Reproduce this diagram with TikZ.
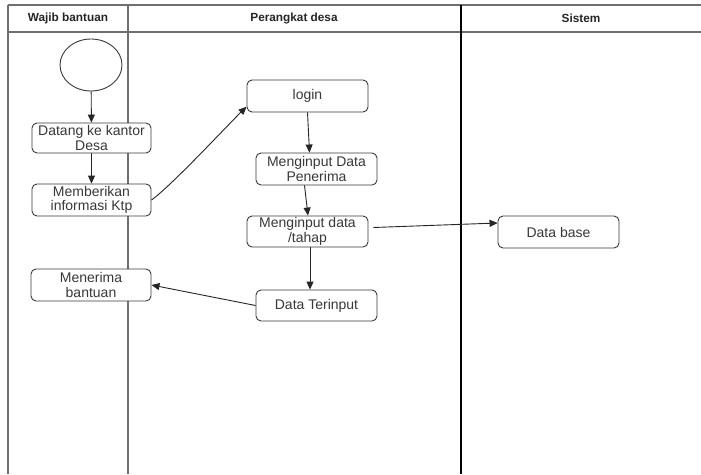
\documentclass[tikz,border=0pt]{standalone}
\usepackage{fontspec}
\setmainfont{Liberation Sans}
\usetikzlibrary{arrows.meta,shapes.geometric}
\definecolor{boxline}{HTML}{3A3A3A}
\definecolor{boxtext}{HTML}{383838}
\definecolor{laneline}{HTML}{6E6E6E}
\tikzset{
  act/.style={draw=boxline, line width=0.9pt, rounded corners=5pt, fill=white,
    text=boxtext, align=center, inner sep=0pt,
    font=\fontsize{14}{14.5}\selectfont},
  startnode/.style={ellipse, draw=boxline, line width=0.9pt, inner sep=0pt,
    minimum width=62pt, minimum height=52pt},
  flow/.style={draw=black!85, line width=0.9pt, -{Triangle[length=8pt,width=7pt]}},
  lane/.style={draw=laneline, line width=1.1pt},
  lanehead/.style={font=\bfseries\fontsize{11.8}{13}\selectfont, text=black!85}
}
\begin{document}
\begin{tikzpicture}[x=1pt,y=-1pt]
\useasboundingbox (0,0) rectangle (701,474);
\fill[white] (0,0) rectangle (701,474);

% swimlane frame
\draw[lane] (8,5) -- (701,5);
\draw[lane] (8,32) -- (701,32);
\draw[lane] (8,5) -- (8,474);
\draw[lane] (128,5) -- (128,474);
\draw[draw=black, line width=2pt] (461,5) -- (461,474);

\node[lanehead] (h1) at (68,18.5) {Wajib bantuan};
\node[lanehead] (h2) at (294,18.5) {Perangkat desa};
\node[lanehead] (h3) at (581,18.5) {Sistem};

% activities
\node[startnode] (start) at (91,65) {};
\node[act, minimum width=119pt, minimum height=30pt] (datang) at (91.5,138) {Datang ke kantor\\Desa};
\node[act, minimum width=119pt, minimum height=32pt] (beri) at (91.5,200) {Memberikan\\informasi Ktp};
\node[act, minimum width=120pt, minimum height=32pt] (terima) at (91,285) {Menerima\\bantuan};

\node[act, minimum width=121pt, minimum height=32pt] (login) at (307.5,96) {login};
\node[act, minimum width=121pt, minimum height=32pt] (input) at (316.5,169) {Menginput Data\\Penerima};
\node[act, minimum width=121pt, minimum height=31pt] (tahap) at (307.5,231.5) {Menginput data\\/tahap};
\node[act, minimum width=121pt, minimum height=31pt] (hasil) at (316.5,305.5) {Data Terinput};

\node[act, minimum width=121pt, minimum height=32pt] (db) at (558.5,232) {Data base};

% connectors
\draw[flow] (start) -- (datang);
\draw[flow] (datang) -- (beri);
\draw[flow] (beri.east) to[out=35,in=224,looseness=0.45] (login.190);
\draw[flow] (login.south) -- ([xshift=-7pt]input.north);
\draw[flow] ([xshift=-12pt]input.south) -- ([xshift=0.5pt]tahap.north);
\draw[flow] ([xshift=5pt,yshift=4pt]tahap.east) -- ([yshift=9pt]db.west);
\draw[flow] ([xshift=2.5pt]tahap.south) -- ([xshift=-6.5pt]hasil.north);
\draw[flow] (hasil.west) -- (terima.east);
\end{tikzpicture}
\end{document}
